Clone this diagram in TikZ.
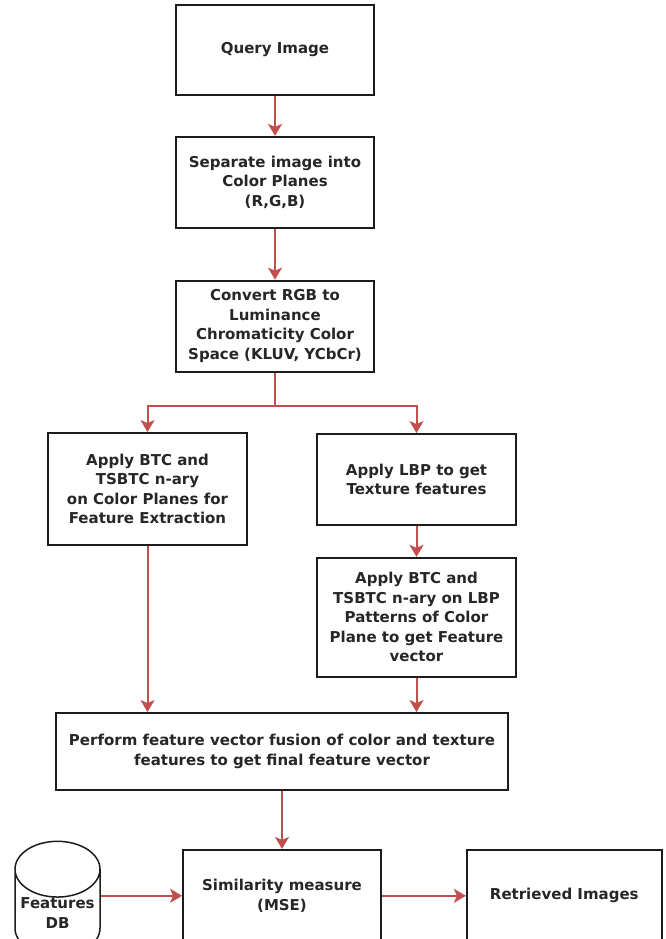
\documentclass[tikz,border=0pt]{standalone}
\usepackage{fontspec}
\setmainfont{DejaVu Sans}
\usepackage{xcolor}
\usetikzlibrary{arrows.meta,shapes.geometric,positioning}
\definecolor{flowred}{RGB}{192,80,77}
\definecolor{boxline}{RGB}{28,28,28}

\begin{document}
\begin{tikzpicture}[
		x=1pt, y=-1pt,
		>={Stealth[length=12pt,width=14pt,inset=3pt]},
		node distance = 40pt and 84pt,
		every node/.style = {font=\bfseries\fontsize{15}{19.5}\selectfont, text=black!85},
		process/.style = {draw=boxline, line width=1.8pt, minimum width=198pt, minimum height=91pt, align=center, inner sep=2pt},
		store/.style = {draw=boxline, line width=1.5pt, cylinder, shape border rotate=90, aspect=0.75, minimum width=85pt, minimum height=102pt, align=center, inner sep=0pt},
		flow/.style = {->, draw=flowred, line width=2pt}
		]
		\useasboundingbox (0,0) rectangle (666,939);
		
		% Main column ----------------------------------------------------
		\node[process, minimum height=90pt] (query) at (275,50) {Query Image};
		\node[process, below=40pt of query] (planes) {Separate image into\\Color Planes\\(R,G,B)};
		\node[process, below=51pt of planes] (convert) {Convert RGB to\\Luminance\\Chromaticity Color\\Space (KLUV, YCbCr)};
		\coordinate[below=33pt of convert.south] (split);
		
		% Two branches ---------------------------------------------------
		\node[process, minimum width=199pt, minimum height=112pt] (btc) at (147.5,489)
		{Apply BTC and\\TSBTC n-ary\\ on Color Planes for\\Feature Extraction};
		\node[process, minimum width=199pt] (lbp) at (416.5,479.5)
		{Apply LBP to get\\Texture features};
		\node[process, minimum width=199pt, minimum height=119pt, below=31pt of lbp] (btclbp)
		{Apply BTC and\\TSBTC n-ary on LBP\\Patterns of Color\\Plane to get Feature\\vector};
		
		% Fusion and matching --------------------------------------------
		\node[process, minimum width=452pt, minimum height=77pt] (fusion) at (282,751.5)
		{Perform feature vector fusion of color and texture\\features to get final feature vector};
		\node[process, minimum height=92pt, below=58pt of fusion] (sim) {Similarity measure\\(MSE)};
		\node[process, minimum width=195pt, minimum height=92pt, right=84pt of sim] (ret) {Retrieved Images};
		\node[store] (db) at (57.5,913) {Features\\DB};
		
		% Arrows ---------------------------------------------------------
		\draw[flow] (query)   -- (planes);
		\draw[flow] (planes)  -- (convert);
		\draw[flow] (convert.south) -- (split) -| (btc.north);
		\draw[flow] (split)   -| (lbp.north);
		\draw[flow] (lbp)     -- (btclbp);
		\draw[flow] (btc.south) -- (btc.south |- fusion.north);
		\draw[flow] (btclbp.south) -- (btclbp.south |- fusion.north);
		\draw[flow] (fusion)  -- (sim);
		\draw[flow] (db.east |- sim.west) -- (sim.west);
		\draw[flow] (sim)     -- (ret);
	\end{tikzpicture}
\end{document}
